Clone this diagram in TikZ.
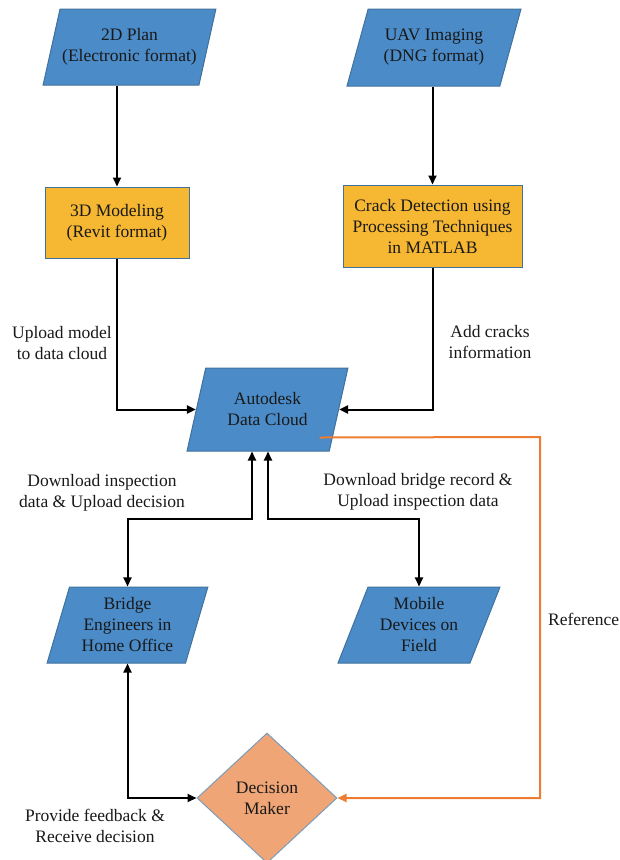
\documentclass[tikz,border=0pt]{standalone}
\usepackage{fontspec}
\setmainfont{Liberation Serif}
\usetikzlibrary{shapes.geometric,arrows.meta}
\definecolor{boxblue}{HTML}{4A8BC8}
\definecolor{edgeblue}{HTML}{41719C}
\definecolor{boxgold}{HTML}{F6B732}
\definecolor{decorange}{HTML}{EFA575}
\definecolor{refline}{HTML}{ED7D31}

\begin{document}
\begin{tikzpicture}[x=1pt,y=-1pt,
    >={Triangle[length=9pt,width=8pt]},
    every node/.style={font=\fontsize{17.5}{21}\selectfont,align=center,text=black!90},
    iobox/.style={trapezium,trapezium stretches=true,draw=edgeblue,fill=boxblue,line width=1pt,inner sep=0pt},
    procbox/.style={rectangle,draw=edgeblue,fill=boxgold,line width=1pt,inner sep=0pt},
    decbox/.style={diamond,draw=edgeblue!70,fill=decorange,line width=1pt,inner sep=0pt},
    lbl/.style={inner sep=0pt},
    arr/.style={->,line width=2pt},
    darr/.style={<->,line width=2pt},
    refarr/.style={->,line width=2pt,draw=refline,color=refline}]
      \useasboundingbox (0,0) rectangle (619,860);

      \node[iobox,trapezium left angle=66,trapezium right angle=114,minimum width=173pt,minimum height=76pt] (plan) at (129.5,47) {2D Plan\\(Electronic format)};
      \node[iobox,trapezium left angle=66,trapezium right angle=114,minimum width=174pt,minimum height=77pt] (uav) at (434,47.5) {UAV Imaging\\(DNG format)};
      \node[procbox,minimum width=144pt,minimum height=71pt] (model) at (117,222.5) {3D Modeling\\(Revit format)};
      \node[procbox,minimum width=179pt,minimum height=82pt] (crack) at (432.5,226) {Crack Detection using\\Processing Techniques\\in MATLAB};
      \node[iobox,trapezium left angle=70,trapezium right angle=110,minimum width=161pt,minimum height=83pt] (cloud) at (267.5,409.5) {Autodesk\\Data Cloud};
      \node[iobox,trapezium left angle=72,trapezium right angle=108,minimum width=161pt,minimum height=76pt] (bridge) at (127.5,625) {Bridge\\Engineers in\\Home Office};
      \node[iobox,trapezium left angle=67,trapezium right angle=113,minimum width=162pt,minimum height=76pt] (mobile) at (419,625) {Mobile\\Devices on\\Field};
      \node[decbox,minimum width=140pt,minimum height=130pt] (dec) at (267,798) {Decision\\Maker};

      \node[lbl] (upl) at (62,343) {Upload model\\to data cloud};
      \node[lbl] (addc) at (490,342) {Add cracks\\information};
      \node[lbl] (dlleft) at (102,493) {Download inspection\\data \& Upload decision};
      \node[lbl] (dlright) at (418,492) {Download bridge record \&\\Upload inspection data};
      \node[lbl] (fback) at (95,826) {Provide feedback \&\\Receive decision};
      \node[lbl,anchor=west] (reflbl) at (548,619) {Reference};

      \coordinate (refcorner) at (540,437);

      \draw[arr] (plan.south -| model.north) -- (model.north);
      \draw[arr] (uav.south -| crack.north) -- (crack.north);
      \draw[arr] (model.south) |- (cloud.west);
      \draw[arr] (crack.south) |- (cloud.east);
      \draw[darr] ([xshift=-15.5pt]cloud.south) -- ++(0,67) -| (bridge.north);
      \draw[darr] ([xshift=0.5pt]cloud.south) -- ++(0,67) -| (mobile.north);
      \draw[darr] (bridge.south) |- (dec.west);
      \draw[refarr] ([shift={(10,-14)}]cloud.south east) -- (refcorner) |- (dec.east);
    \end{tikzpicture}
\end{document}
